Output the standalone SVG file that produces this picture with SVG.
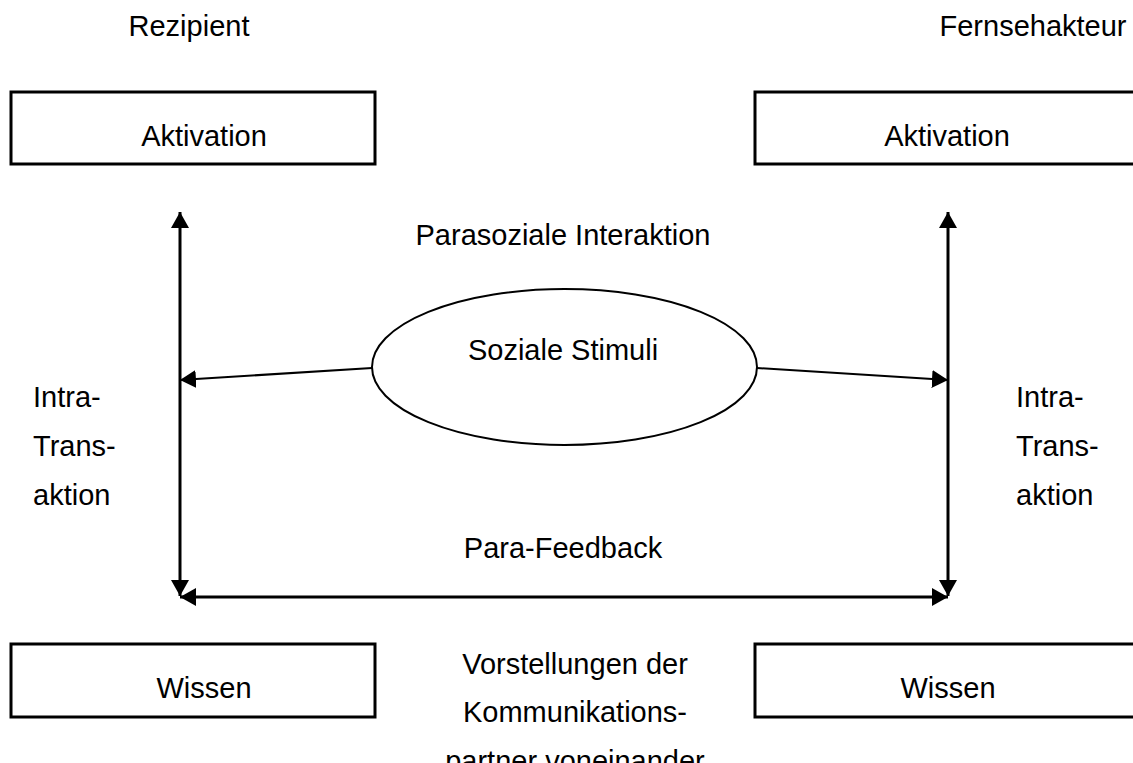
<svg xmlns="http://www.w3.org/2000/svg" width="1133" height="763" viewBox="0 0 1133 763">
<style>
text{font-family:"Liberation Sans",Arial,sans-serif;font-size:29px;fill:#000}
.m{text-anchor:middle}
.box{fill:#fff;stroke:#000;stroke-width:3}
.ln{stroke:#000;stroke-width:3;fill:none}
.thin{stroke:#000;stroke-width:2;fill:none}
</style>
<defs>
<marker id="ah" viewBox="0 0 16 18" refX="16" refY="9" markerWidth="16" markerHeight="18" markerUnits="userSpaceOnUse" orient="auto">
<path d="M0,0 L16,9 L0,18 Z" fill="#000"/>
</marker>
</defs>
<rect width="1133" height="763" fill="#fff"/>
<g id="labels">
<text class="m" x="189" y="36">Rezipient</text>
<text class="m" x="1033" y="36">Fernsehakteur</text>
<text class="m" x="563" y="245">Parasoziale Interaktion</text>
<text class="m" x="563" y="558">Para-Feedback</text>
<text x="33" y="407">Intra-</text>
<text x="33" y="456">Trans-</text>
<text x="33" y="505">aktion</text>
<text x="1016" y="407">Intra-</text>
<text x="1016" y="456">Trans-</text>
<text x="1016" y="505">aktion</text>
<text class="m" x="575" y="674">Vorstellungen der</text>
<text class="m" x="575" y="722">Kommunikations-</text>
<text class="m" x="575" y="771">partner voneinander</text>
</g>
<g id="aktivation-left"><rect class="box" x="11" y="92" width="364" height="72"/><text class="m" x="204" y="146">Aktivation</text></g>
<g id="aktivation-right"><rect class="box" x="755" y="92" width="400" height="72"/><text class="m" x="947" y="146">Aktivation</text></g>
<g id="wissen-left"><rect class="box" x="11" y="644" width="364" height="73"/><text class="m" x="204" y="698">Wissen</text></g>
<g id="wissen-right"><rect class="box" x="755" y="644" width="400" height="73"/><text class="m" x="948" y="698">Wissen</text></g>
<g id="soziale-stimuli"><ellipse class="thin" cx="564.5" cy="367" rx="192.5" ry="78"/><text class="m" x="563" y="360">Soziale Stimuli</text></g>
<g id="connectors">
<line class="ln" x1="180" y1="400" x2="180" y2="212" marker-end="url(#ah)"/>
<line class="ln" x1="180" y1="400" x2="180" y2="596" marker-end="url(#ah)"/>
<line class="ln" x1="948" y1="400" x2="948" y2="212" marker-end="url(#ah)"/>
<line class="ln" x1="948" y1="400" x2="948" y2="596" marker-end="url(#ah)"/>
<line class="ln" x1="564" y1="597" x2="180" y2="597" marker-end="url(#ah)"/>
<line class="ln" x1="564" y1="597" x2="948" y2="597" marker-end="url(#ah)"/>
<line class="thin" x1="372" y1="368" x2="180" y2="380" marker-end="url(#ah)"/>
<line class="thin" x1="757" y1="368" x2="948" y2="380" marker-end="url(#ah)"/>
</g>
</svg>
